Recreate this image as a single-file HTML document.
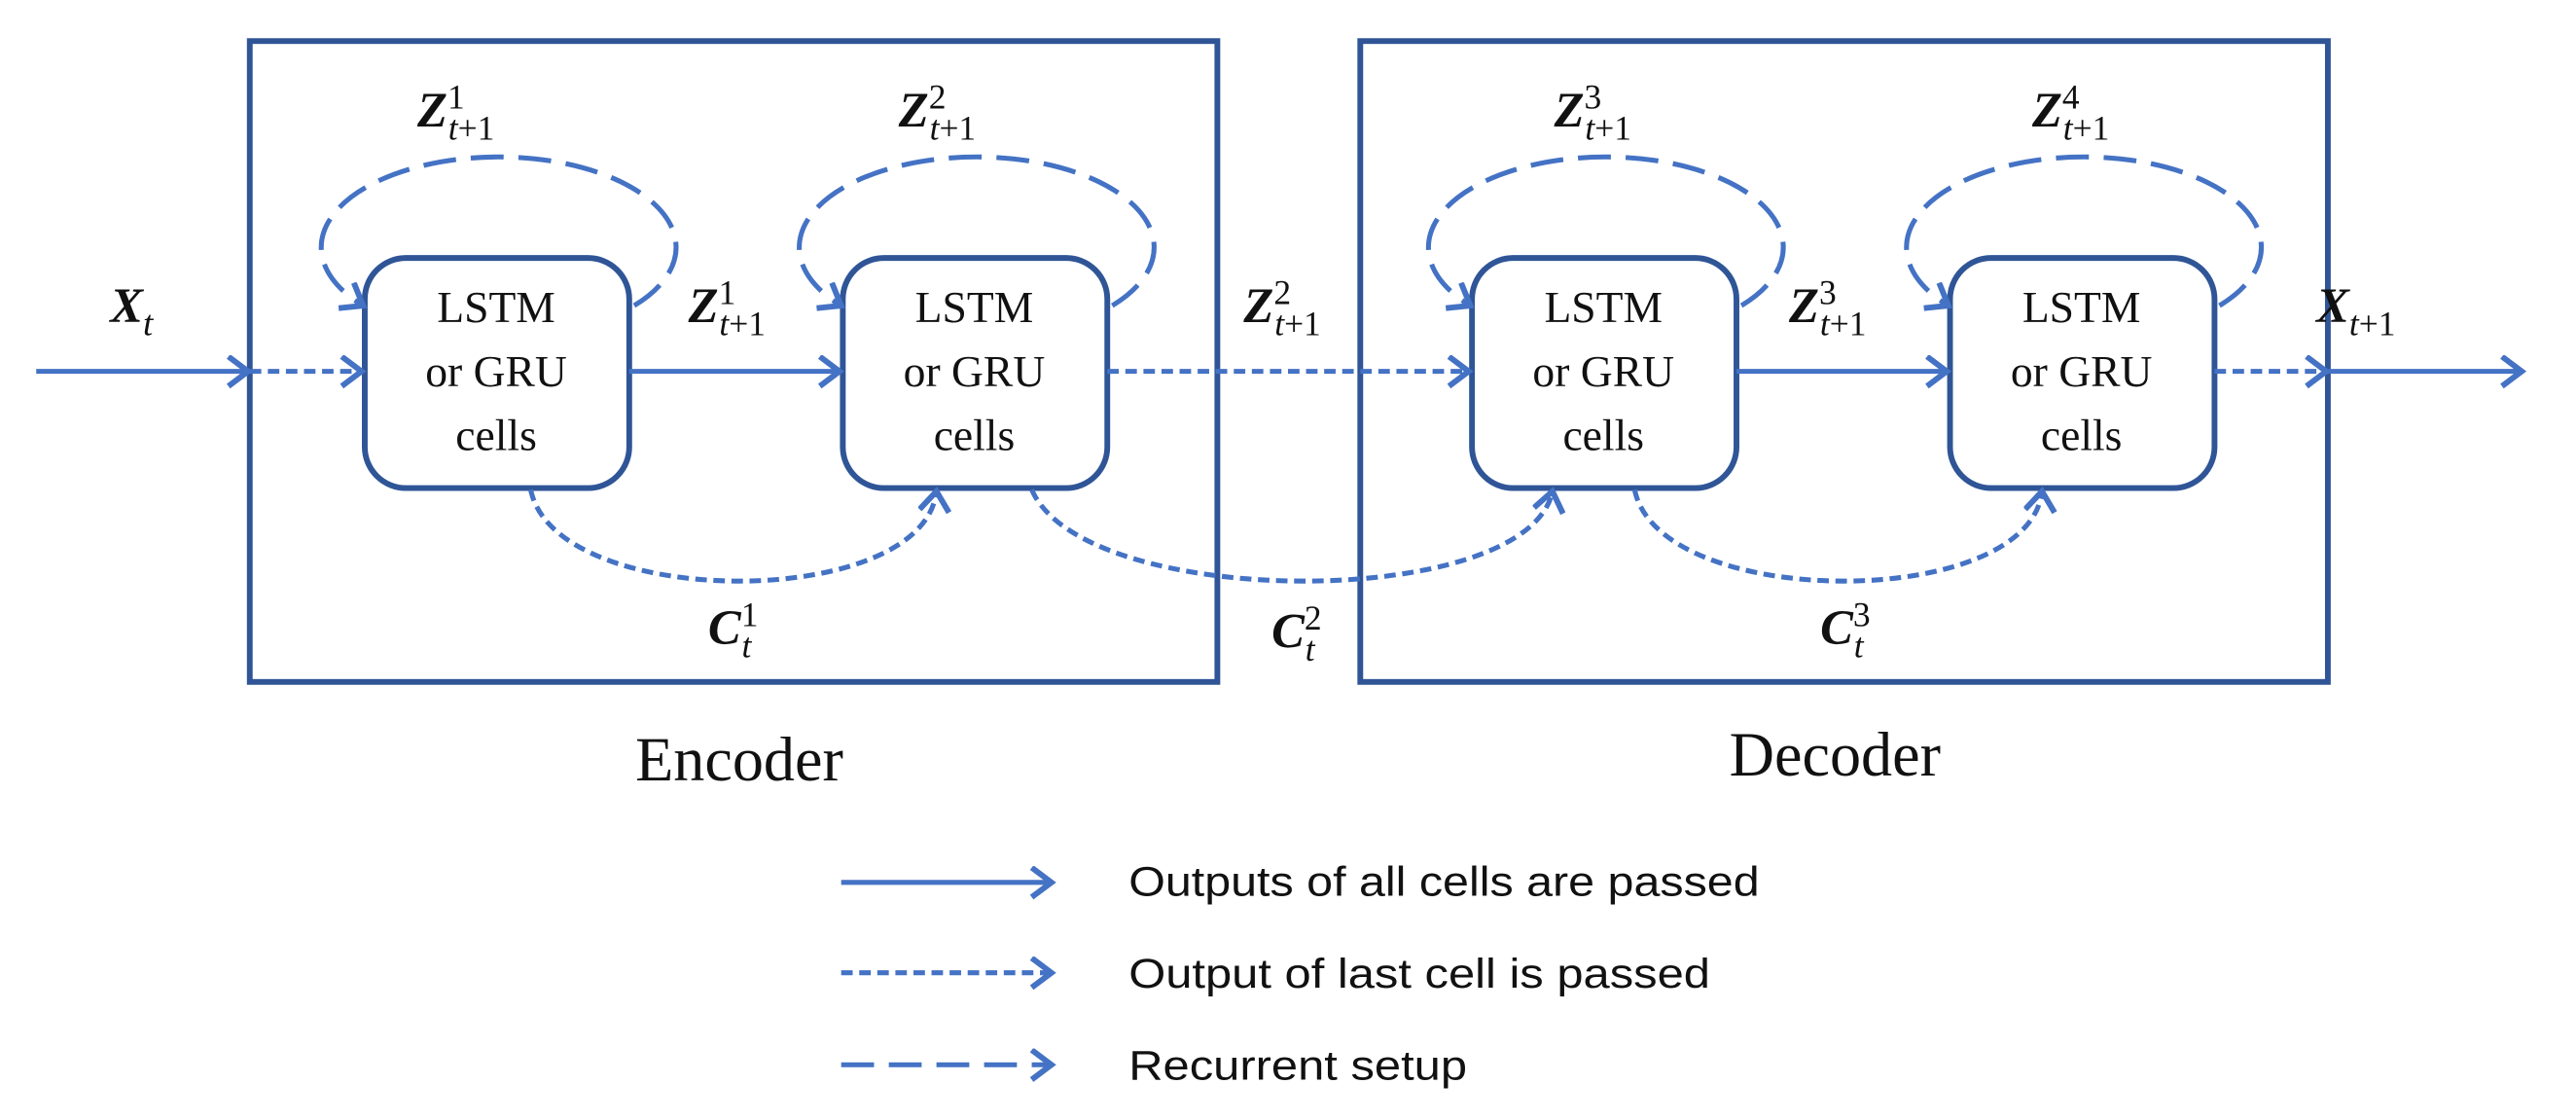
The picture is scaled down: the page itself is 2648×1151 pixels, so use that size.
<!DOCTYPE html>
<html><head><meta charset="utf-8"><style>html,body{margin:0;padding:0;background:#fff}svg{display:block}</style></head>
<body>
<svg width="2648" height="1151" viewBox="0 0 1568 681.6" xmlns="http://www.w3.org/2000/svg">
<defs>
<marker id="ah" markerWidth="18" markerHeight="22" refX="14" refY="10" orient="auto" markerUnits="userSpaceOnUse">
<path d="M2,1 L14,10 L2,19" fill="none" stroke="#4472c4" stroke-width="3.5"/>
</marker>
</defs>
<g fill="none" stroke="#2f5597" stroke-width="3.5">
<rect x="152" y="25" width="589" height="390"/>
<rect x="828" y="25" width="589" height="390"/>
<rect x="222" y="157" width="161" height="140" rx="25"/>
<rect x="513" y="157" width="161" height="140" rx="25"/>
<rect x="896" y="157" width="161" height="140" rx="25"/>
<rect x="1187" y="157" width="161" height="140" rx="25"/>
</g>
<g fill="none" stroke="#4472c4" stroke-width="3">
<line x1="22" y1="226" x2="151" y2="226" marker-end="url(#ah)"/>
<line x1="152" y1="226" x2="220" y2="226" stroke-dasharray="7,4" marker-end="url(#ah)"/>
<line x1="383" y1="226" x2="511" y2="226" marker-end="url(#ah)"/>
<line x1="674" y1="226" x2="894" y2="226" stroke-dasharray="7,4" marker-end="url(#ah)"/>
<line x1="1057" y1="226" x2="1185" y2="226" marker-end="url(#ah)"/>
<line x1="1348" y1="226" x2="1416" y2="226" stroke-dasharray="7,4" marker-end="url(#ah)"/>
<line x1="1417" y1="226" x2="1535" y2="226" marker-end="url(#ah)"/>
<g stroke-dasharray="20,9">
<path d="M386,186 A108,55 0 1 0 221,186" marker-end="url(#ah)"/>
<path d="M677,186 A108,55 0 1 0 512,186" marker-end="url(#ah)"/>
<path d="M1060,186 A108,55 0 1 0 895,186" marker-end="url(#ah)"/>
<path d="M1351,186 A108,55 0 1 0 1186,186" marker-end="url(#ah)"/>
</g>
<g stroke-dasharray="7,4">
<path d="M323,298 C338,372 562,372 570,299" marker-end="url(#ah)"/>
<path d="M628,298 C660,372 930,372 945,299" marker-end="url(#ah)"/>
<path d="M995,298 C1010,372 1235,372 1243,299" marker-end="url(#ah)"/>
</g>
<line x1="512" y1="537" x2="640" y2="537" marker-end="url(#ah)"/>
<line x1="512" y1="592" x2="640" y2="592" stroke-dasharray="7,4" marker-end="url(#ah)"/>
<line x1="512" y1="648" x2="640" y2="648" stroke-dasharray="20,9" marker-end="url(#ah)"/>
</g>
<g font-family="Liberation Serif, serif" font-size="27" fill="#111" text-anchor="middle">
<text x="302" y="196">LSTM</text><text x="302" y="235">or GRU</text><text x="302" y="274">cells</text>
<text x="593" y="196">LSTM</text><text x="593" y="235">or GRU</text><text x="593" y="274">cells</text>
<text x="976" y="196">LSTM</text><text x="976" y="235">or GRU</text><text x="976" y="274">cells</text>
<text x="1267" y="196">LSTM</text><text x="1267" y="235">or GRU</text><text x="1267" y="274">cells</text>
<text x="450" y="475" font-size="38">Encoder</text>
<text x="1117" y="472" font-size="38">Decoder</text>
</g>
<g font-family="Liberation Serif, serif" fill="#111" font-size="30">
<text x="254" y="77"><tspan font-weight="bold" font-style="italic">Z</tspan><tspan font-size="21" dy="-11">1</tspan><tspan font-size="21" font-style="italic" dx="-10" dy="19">t</tspan><tspan font-size="21">+1</tspan></text>
<text x="547" y="77"><tspan font-weight="bold" font-style="italic">Z</tspan><tspan font-size="21" dy="-11">2</tspan><tspan font-size="21" font-style="italic" dx="-10" dy="19">t</tspan><tspan font-size="21">+1</tspan></text>
<text x="946" y="77"><tspan font-weight="bold" font-style="italic">Z</tspan><tspan font-size="21" dy="-11">3</tspan><tspan font-size="21" font-style="italic" dx="-10" dy="19">t</tspan><tspan font-size="21">+1</tspan></text>
<text x="1237" y="77"><tspan font-weight="bold" font-style="italic">Z</tspan><tspan font-size="21" dy="-11">4</tspan><tspan font-size="21" font-style="italic" dx="-10" dy="19">t</tspan><tspan font-size="21">+1</tspan></text>
<text x="419" y="196"><tspan font-weight="bold" font-style="italic">Z</tspan><tspan font-size="21" dy="-11">1</tspan><tspan font-size="21" font-style="italic" dx="-10" dy="19">t</tspan><tspan font-size="21">+1</tspan></text>
<text x="757" y="196"><tspan font-weight="bold" font-style="italic">Z</tspan><tspan font-size="21" dy="-11">2</tspan><tspan font-size="21" font-style="italic" dx="-10" dy="19">t</tspan><tspan font-size="21">+1</tspan></text>
<text x="1089" y="196"><tspan font-weight="bold" font-style="italic">Z</tspan><tspan font-size="21" dy="-11">3</tspan><tspan font-size="21" font-style="italic" dx="-10" dy="19">t</tspan><tspan font-size="21">+1</tspan></text>
<text x="67" y="196"><tspan font-weight="bold" font-style="italic">X</tspan><tspan font-size="22" font-style="italic" dy="8">t</tspan></text>
<text x="1410" y="196"><tspan font-weight="bold" font-style="italic">X</tspan><tspan font-size="21" font-style="italic" dy="8">t</tspan><tspan font-size="21">+1</tspan></text>
<text x="431" y="392"><tspan font-weight="bold" font-style="italic">C</tspan><tspan font-size="21" dy="-11">1</tspan><tspan font-size="21" font-style="italic" dx="-10" dy="19">t</tspan></text>
<text x="774" y="394"><tspan font-weight="bold" font-style="italic">C</tspan><tspan font-size="21" dy="-11">2</tspan><tspan font-size="21" font-style="italic" dx="-10" dy="19">t</tspan></text>
<text x="1108" y="392"><tspan font-weight="bold" font-style="italic">C</tspan><tspan font-size="21" dy="-11">3</tspan><tspan font-size="21" font-style="italic" dx="-10" dy="19">t</tspan></text>
</g>
<g font-family="Liberation Sans, sans-serif" font-size="25" fill="#111">
<text x="687" y="545" textLength="384" lengthAdjust="spacingAndGlyphs">Outputs of all cells are passed</text>
<text x="687" y="601" textLength="354" lengthAdjust="spacingAndGlyphs">Output of last cell is passed</text>
<text x="687" y="657" textLength="206" lengthAdjust="spacingAndGlyphs">Recurrent setup</text>
</g>
</svg>
</body></html>
